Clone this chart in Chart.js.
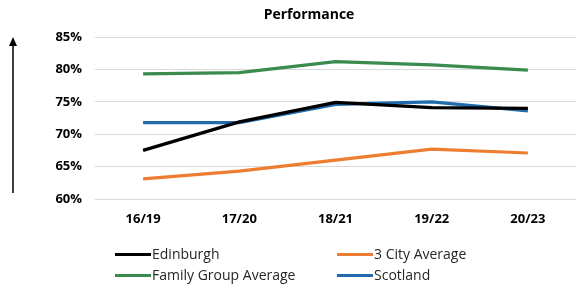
<!DOCTYPE html>
<html>
<head>
<meta charset="utf-8">
<script src="https://cdn.jsdelivr.net/npm/chart.js@4/dist/chart.umd.min.js"></script>
<style>
  html, body { margin: 0; padding: 0; background: #fff; }
  #wrap { position: relative; width: 576px; height: 289px; }
  #legend { position: absolute; left: 0; top: 0; width: 576px; height: 289px; pointer-events: none;
            font-family: 'Open Sans', sans-serif; font-size: 14px; color: #262626; }
  .item { position: absolute; height: 20px; line-height: 20px; white-space: nowrap; }
  .item span.swatch { display: inline-block; width: 36px; height: 3px; vertical-align: middle; margin-right: 1px; position: relative; top: -1px; }
</style>
</head>
<body>
<div id="wrap">
  <canvas id="chart" width="576" height="289"></canvas>
  <div id="legend"></div>
</div>
<script>
// Datos del gráfico
const categorias = ['16/19', '17/20', '18/21', '19/22', '20/23'];
const edinburgh = [67.5, 71.9, 74.9, 74.1, 74.0];
const tresCiudades = [63.1, 64.3, 66.0, 67.7, 67.1];
const familyGroup = [79.3, 79.5, 81.2, 80.7, 79.9];
const scotland = [71.8, 71.8, 74.6, 75.0, 73.6];

const nombres = ['Edinburgh', '3 City Average', 'Family Group Average', 'Scotland'];
const colores = ['#000000', '#ED7D31', '#3B8B4E', '#1F6BAE'];
const series = [edinburgh, tresCiudades, familyGroup, scotland];

const fuente = "'Open Sans', sans-serif";

// Título y flecha vertical a la izquierda
const decoracion = {
  id: 'decoracion',
  afterDraw(chart) {
    const c = chart.ctx;
    c.save();
    c.fillStyle = '#000';
    c.font = `bold 14px ${fuente}`;
    c.textAlign = 'center';
    c.textBaseline = 'middle';
    c.fillText('Performance', 309, 15);

    c.strokeStyle = '#000';
    c.lineWidth = 1.5;
    c.beginPath();
    c.moveTo(13, 193);
    c.lineTo(13, 44);
    c.stroke();
    c.beginPath();
    c.moveTo(13, 37);
    c.lineTo(9, 46);
    c.lineTo(17, 46);
    c.closePath();
    c.fill();
    c.restore();
  }
};

new Chart(document.getElementById('chart'), {
  type: 'line',
  data: {
    labels: categorias,
    datasets: series.map((d, i) => ({
      label: nombres[i],
      data: d,
      borderColor: colores[i],
      backgroundColor: colores[i],
      borderWidth: 3.2,
      pointRadius: 0,
      tension: 0,
      fill: false
    }))
  },
  options: {
    responsive: false,
    animation: false,
    layout: { padding: { top: 37, right: 0, bottom: 60, left: 0 } },
    plugins: {
      legend: { display: false },
      title: { display: false },
      tooltip: { enabled: false }
    },
    scales: {
      x: {
        offset: true,
        grid: { display: false },
        border: { display: false },
        ticks: { color: '#000', font: { family: fuente, size: 13, weight: 'bold' }, padding: 4, maxRotation: 0 },
        afterFit: (s) => { s.height = 30; }
      },
      y: {
        min: 60,
        max: 85,
        grid: { color: '#d9d9d9', lineWidth: 1, drawTicks: false },
        border: { display: false },
        ticks: {
          stepSize: 5,
          color: '#000',
          padding: 13,
          font: { family: fuente, size: 13, weight: 'bold' },
          callback: (v) => v + '%'
        },
        afterFit: (s) => { s.width = 95; }
      }
    }
  },
  plugins: [decoracion]
});

// Leyenda en dos columnas
const posiciones = [[115, 244], [337, 244], [115, 265], [337, 265]];
const leyenda = document.getElementById('legend');
nombres.forEach((n, i) => {
  const el = document.createElement('div');
  el.className = 'item';
  el.style.left = posiciones[i][0] + 'px';
  el.style.top = posiciones[i][1] + 'px';
  el.innerHTML = `<span class="swatch" style="background:${colores[i]}"></span>${n}`;
  leyenda.appendChild(el);
});
</script>
</body>
</html>
